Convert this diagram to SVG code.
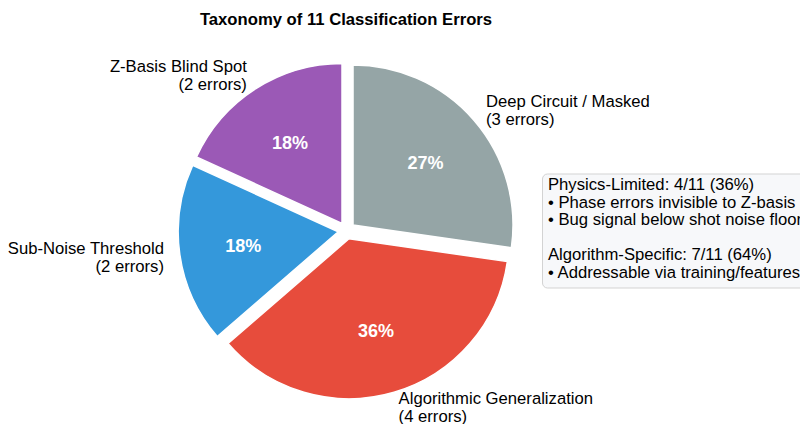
<svg xmlns="http://www.w3.org/2000/svg" width="800" height="424" viewBox="0 0 800 424">
<style>
.t{font-family:"Liberation Sans",Arial,sans-serif;font-size:16.67px;fill:#000}
.title{font-family:"Liberation Sans",Arial,sans-serif;font-size:16.67px;font-weight:bold;fill:#000}
.pct{font-family:"Liberation Sans",Arial,sans-serif;font-size:18px;font-weight:bold;fill:#fff;text-anchor:middle}
.w{stroke:#fff;stroke-width:1.5}
</style>
<rect width="800" height="424" fill="#fff"/>
<text class="title" x="346" y="25" text-anchor="middle">Taxonomy of 11 Classification Errors</text>
<g id="wedge-deep">
<path class="w" fill="#95a5a6" d="M353.02 225.03 L353.02 65.03 A160 160 0 0 1 511.39 247.80 Z"/>
<text class="pct" x="425.6" y="168.6">27%</text>
<text class="t" x="486" y="106.5">Deep Circuit / Masked</text>
<text class="t" x="486" y="124.5">(3 errors)</text>
</g>
<g id="wedge-algo">
<path class="w" fill="#e74c3c" d="M348.99 238.76 L507.36 261.53 A160 160 0 0 1 228.07 343.54 Z"/>
<text class="pct" x="376" y="337.3">36%</text>
<text class="t" x="398.6" y="404.4">Algorithmic Generalization</text>
<text class="t" x="398.6" y="422.4">(4 errors)</text>
</g>
<g id="wedge-subnoise">
<path class="w" fill="#3498db" d="M338.19 231.81 L217.27 336.59 A160 160 0 0 1 192.65 165.34 Z"/>
<text class="pct" x="243.2" y="251.9">18%</text>
<text class="t" x="164" y="253.7" text-anchor="end">Sub-Noise Threshold</text>
<text class="t" x="164" y="271.7" text-anchor="end">(2 errors)</text>
</g>
<g id="wedge-zbasis">
<path class="w" fill="#9b59b6" d="M342.0 223.45 L196.46 156.98 A160 160 0 0 1 342.0 63.45 Z"/>
<text class="pct" x="290.1" y="149.1">18%</text>
<text class="t" x="246.9" y="72.2" text-anchor="end">Z-Basis Blind Spot</text>
<text class="t" x="246.9" y="90.2" text-anchor="end">(2 errors)</text>
</g>
<g id="legend-box">
<rect x="542.5" y="174" width="270" height="114" rx="5" fill="#f7f8fa" stroke="#d3d3d3" stroke-width="1"/>
<text class="t" x="548" y="190">Physics-Limited: 4/11 (36%)</text>
<text class="t" x="548" y="207.5">• Phase errors invisible to Z-basis</text>
<text class="t" x="548" y="225">• Bug signal below shot noise floor</text>
<text class="t" x="548" y="260">Algorithm-Specific: 7/11 (64%)</text>
<text class="t" x="548" y="277.5">• Addressable via training/features</text>
</g>
<g id="connectors"></g>
</svg>
